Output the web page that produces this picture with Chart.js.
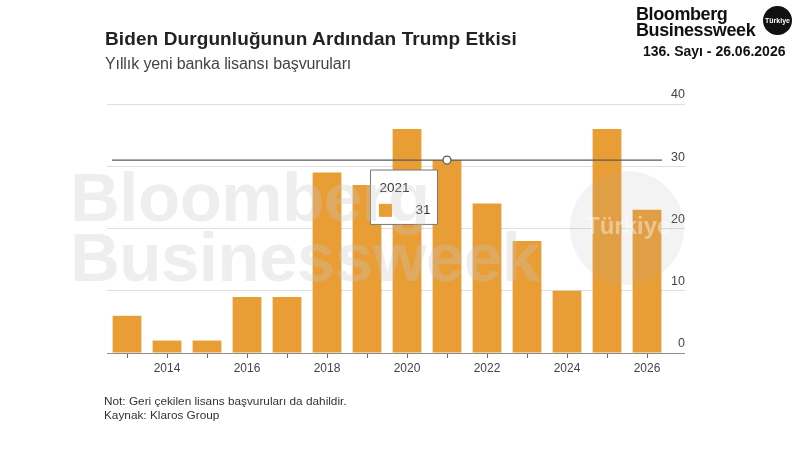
<!DOCTYPE html>
<html>
<head>
<meta charset="utf-8">
<script src="https://cdn.jsdelivr.net/npm/chart.js@4/dist/chart.umd.min.js"></script>
<style>
  html, body { margin:0; padding:0; background:#fff; }
  #wrap { position:relative; width:800px; height:450px; overflow:hidden; font-family:"Liberation Sans", Arial, sans-serif; }
  #c { position:absolute; left:0; top:0; }
  .t { position:absolute; white-space:nowrap; }
  #title { left:105px; top:29px; font-size:19px; line-height:19px; font-weight:bold; color:#222; letter-spacing:0.1px; }
  #sub { left:105px; top:56px; font-size:16px; line-height:16px; color:#444; letter-spacing:-0.1px; }
  #note { left:104px; top:394px; font-size:11.8px; line-height:14px; color:#333; }
  #logo { left:636px; top:6px; font-size:18px; line-height:16px; font-weight:bold; color:#111; letter-spacing:-0.4px; }
  #badge { position:absolute; left:763px; top:6px; width:29px; height:29px; border-radius:50%; background:#111; color:#fff; font-size:7px; font-weight:bold; text-align:center; line-height:29px; font-family:"Liberation Sans", Arial, sans-serif; }
  #issue { left:643px; top:44px; font-size:14px; line-height:14px; font-weight:bold; color:#111; }
  #wm { left:70px; top:168px; font-size:69px; line-height:60px; font-weight:bold; color:rgba(200,200,200,0.3); pointer-events:none; letter-spacing:-0.5px; }
  #wmc { position:absolute; left:570px; top:171px; width:114px; height:114px; border-radius:50%; background:rgba(170,170,170,0.14); pointer-events:none; }
  #wmct { left:585px; top:214px; width:84px; text-align:center; font-size:24px; line-height:24px; font-weight:bold; color:rgba(255,255,255,0.4); pointer-events:none; }
</style>
</head>
<body>
<div id="wrap">
  <canvas id="c" width="800" height="450"></canvas>
  <div class="t" id="title">Biden Durgunluğunun Ardından Trump Etkisi</div>
  <div class="t" id="sub">Yıllık yeni banka lisansı başvuruları</div>
  <div class="t" id="note">Not: Geri çekilen lisans başvuruları da dahildir.<br>Kaynak: Klaros Group</div>
  <div class="t" id="logo">Bloomberg<br>Businessweek</div>
  <div id="badge">Türkiye</div>
  <div class="t" id="issue">136. Sayı - 26.06.2026</div>
  <div class="t" id="wm">Bloomberg<br>Businessweek</div>
  <div id="wmc"></div>
  <div class="t" id="wmct">Türkiye</div>
</div>
<script>
const years = ['2013','2014','2015','2016','2017','2018','2019','2020','2021','2022','2023','2024','2025','2026'];
const applications = [6, 2, 2, 9, 9, 29, 27, 36, 31, 24, 18, 10, 36, 23];
const yTickValues = [0, 10, 20, 30, 40];
const highlightYear = '2021';

const barColor = '#E99E35';

Chart.defaults.font.family = '"Liberation Sans", Arial, sans-serif';
Chart.defaults.color = '#444';

Chart.Tooltip.positioners.nearBar = function(elements) {
  if (!elements.length) return false;
  const el = elements[0].element;
  return { x: el.x - 43, y: el.y + 10 };
};

const crosshair = {
  id: 'crosshair',
  afterDatasetsDraw(chart) {
    const act = chart.tooltip.getActiveElements();
    if (!act.length) return;
    const el = act[0].element;
    const a = chart.chartArea;
    const ctx = chart.ctx;
    ctx.save();
    ctx.strokeStyle = '#5a5a5a';
    ctx.lineWidth = 1.3;
    ctx.beginPath();
    ctx.moveTo(a.left + 5, el.y);
    ctx.lineTo(a.right - 5, el.y);
    ctx.stroke();
    ctx.beginPath();
    ctx.arc(el.x, el.y, 4, 0, Math.PI * 2);
    ctx.fillStyle = '#fff';
    ctx.fill();
    ctx.lineWidth = 1.3;
    ctx.stroke();
    ctx.restore();
  }
};

const chart = new Chart(document.getElementById('c'), {
  type: 'bar',
  data: {
    labels: years,
    datasets: [{
      label: 'Başvurular',
      data: applications,
      backgroundColor: barColor,
      hoverBackgroundColor: barColor,
      borderWidth: 0,
      barPercentage: 0.72,
      categoryPercentage: 1.0
    }]
  },
  options: {
    responsive: false,
    animation: false,
    events: [],
    layout: { padding: { left: 107, right: 115, top: 104, bottom: 67 } },
    plugins: {
      legend: { display: false },
      title: { display: false },
      tooltip: {
        enabled: true,
        position: 'nearBar',
        xAlign: 'center',
        yAlign: 'top',
        caretSize: 0,
        caretPadding: 0,
        cornerRadius: 0,
        backgroundColor: '#ffffff',
        borderColor: '#777',
        borderWidth: 1,
        titleColor: '#333',
        bodyColor: '#333',
        titleFont: { size: 13.5, weight: 'normal' },
        bodyFont: { size: 13.5 },
        titleMarginBottom: 6,
        padding: { top: 10, left: 9, right: 7, bottom: 6 },
        boxWidth: 12,
        boxHeight: 12,
        boxPadding: 22,
        displayColors: true,
        multiKeyBackground: barColor,
        callbacks: {
          label: (ctx) => ctx.formattedValue,
          labelColor: () => ({ borderColor: barColor, backgroundColor: barColor, borderWidth: 1 })
        }
      }
    },
    scales: {
      x: {
        offset: true,
        border: { display: false },
        grid: { display: true, offset: false, drawOnChartArea: false, drawTicks: true, tickLength: 5, color: '#666' },
        ticks: {
          autoSkip: false,
          maxRotation: 0,
          padding: 3,
          color: '#444',
          font: { size: 12 },
          callback: function(v, i) { return i % 2 === 1 ? this.getLabelForValue(v) : ''; }
        },
        afterFit: (s) => { s.height = 30; }
      },
      y: {
        position: 'right',
        min: 0,
        max: 40,
        border: { display: false },
        afterBuildTicks: (s) => { s.ticks = yTickValues.map(v => ({ value: v })); },
        grid: {
          color: (c) => (c.tick && c.tick.value === 0) ? '#8c8c8c' : '#dedede',
          lineWidth: 1,
          drawTicks: true,
          tickLength: 18
        },
        ticks: {
          crossAlign: 'far',
          padding: -13,
          labelOffset: -9,
          color: '#444',
          font: { size: 12.5 }
        },
        afterFit: (s) => { s.width = 18; }
      }
    }
  },
  plugins: [crosshair]
});

const hi = years.indexOf(highlightYear);
chart.tooltip.setActiveElements([{ datasetIndex: 0, index: hi }], { x: 0, y: 0 });
chart.update();
</script>
</body>
</html>
